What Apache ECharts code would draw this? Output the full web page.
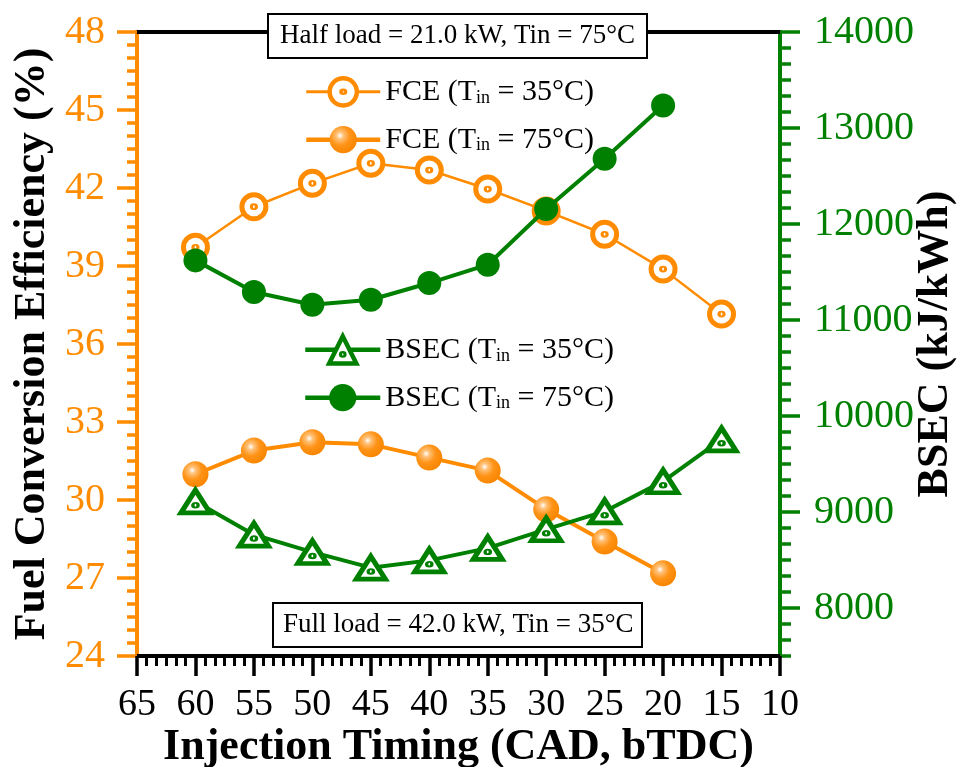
<!DOCTYPE html>
<html>
<head>
<meta charset="utf-8">
<script src="https://cdn.jsdelivr.net/npm/echarts@6/dist/echarts.min.js"></script>
<style>
html,body{margin:0;padding:0;background:#fff;}
#chart{width:957px;height:767px;}
</style>
</head>
<body>
<div id="chart"></div>
<script>
// ---- data ----
const timing = [60, 55, 50, 45, 40, 35, 30, 25, 20, 15];
const fce35 = [39.72, 41.28, 42.18, 42.95, 42.69, 41.96, 41.12, 40.22, 38.88, 37.15];
const fce75 = [30.99, 31.90, 32.22, 32.14, 31.63, 31.13, 29.64, 28.40, 27.18];
const bsec35 = [9110, 8764, 8582, 8420, 8496, 8624, 8819, 9006, 9319, 9756];
const bsec75 = [11621, 11292, 11159, 11211, 11385, 11576, 12156, 12680, 13235];
const bsecTicks = [8000, 9000, 10000, 11000, 12000, 13000, 14000];
const seriesNames = ['FCE (Tin = 35°C)', 'FCE (Tin = 75°C)', 'BSEC (Tin = 35°C)', 'BSEC (Tin = 75°C)'];
const legendParts = [['FCE (T', 'in', ' = 35°C)'], ['FCE (T', 'in', ' = 75°C)'], ['BSEC (T', 'in', ' = 35°C)'], ['BSEC (T', 'in', ' = 75°C)']];
const noteTop = 'Half load = 21.0 kW, Tin = 75°C';
const noteBottom = 'Full load = 42.0 kW, Tin = 35°C';

const ORANGE = '#FF8C00';
const GREEN = '#008000';
const FONT = '"Liberation Serif", "Times New Roman", serif';

function pairs(xs, ys) { return ys.map((v, i) => [xs[i], v]); }

const ringPath = 'path://M0,12 A12,12 0 1,1 24,12 A12,12 0 1,1 0,12 Z M10.4,12 A1.6,0.9 0 1,1 13.6,12 A1.6,0.9 0 1,1 10.4,12 Z';
const triPath = 'path://M12,0 L24,21 L0,21 Z M10.6,14 A1.4,0.8 0 1,1 13.4,14 A1.4,0.8 0 1,1 10.6,14 Z';

function legendFmt(name) {
  const p = legendParts[seriesNames.indexOf(name)];
  return '{m|' + p[0] + '}{s|' + p[1] + '}{m|' + p[2] + '}';
}
const legendRich = {
  m: { fontSize: 30, fontFamily: FONT, color: '#000', lineHeight: 30 },
  s: { fontSize: 18, fontFamily: FONT, color: '#000', lineHeight: 4, verticalAlign: 'bottom' }
};

const chart = echarts.init(document.getElementById('chart'), null, { renderer: 'canvas' });
const option = {
  animation: false,
  backgroundColor: '#fff',
  grid: { left: 137, right: 177, top: 32, bottom: 111, outerBoundsMode: 'none', containLabel: false },
  title: [
    { text: noteTop, left: 268, top: 14, padding: [7, 12, 7, 12], borderWidth: 2, borderColor: '#000', backgroundColor: '#fff',
      textStyle: { fontFamily: FONT, fontSize: 27, fontWeight: 'normal', color: '#000', lineHeight: 30 }, z: 20 },
    { text: noteBottom, left: 273, top: 603, padding: [7, 9, 7, 10], borderWidth: 2, borderColor: '#000', backgroundColor: '#fff',
      textStyle: { fontFamily: FONT, fontSize: 27, fontWeight: 'normal', color: '#000', lineHeight: 30 }, z: 20 }
  ],
  legend: [
    { data: [
        { name: seriesNames[0], itemStyle: { borderWidth: 4.5 }, lineStyle: { width: 3 } },
        { name: seriesNames[1], lineStyle: { width: 4.5 } } ],
      orient: 'vertical', left: 299, top: 71, itemWidth: 74, itemHeight: 34, itemGap: 17,
      selectedMode: false, formatter: legendFmt, textStyle: { rich: legendRich } },
    { data: [
        { name: seriesNames[2], itemStyle: { borderWidth: 4.5 }, lineStyle: { width: 4.5 } },
        { name: seriesNames[3], lineStyle: { width: 4.5 } } ],
      orient: 'vertical', left: 298, top: 329, itemWidth: 75, itemHeight: 34, itemGap: 17,
      selectedMode: false, formatter: legendFmt, textStyle: { rich: legendRich } }
  ],
  xAxis: [
    { type: 'value', min: 10, max: 65, interval: 5, inverse: true, position: 'bottom',
      axisLine: { show: true, lineStyle: { color: '#000', width: 4 } },
      axisTick: { show: true, length: 20, lineStyle: { color: '#000', width: 3.5 } },
      minorTick: { show: true, splitNumber: 6, length: 10, lineStyle: { color: '#000', width: 3 } },
      splitLine: { show: false }, minorSplitLine: { show: false },
      axisLabel: { fontSize: 38, fontFamily: FONT, color: '#000', margin: 30, showMinLabel: true, showMaxLabel: true },
      name: 'Injection Timing (CAD, bTDC)', nameLocation: 'middle', nameGap: 70, nameMoveOverlap: false,
      nameTextStyle: { fontSize: 44, fontWeight: 'bold', fontFamily: FONT, color: '#000' } },
    { type: 'value', min: 10, max: 65, inverse: true, position: 'top',
      axisLine: { show: true, lineStyle: { color: '#000', width: 4 } },
      axisTick: { show: false }, axisLabel: { show: false }, splitLine: { show: false } }
  ],
  yAxis: [
    { type: 'value', min: 24, max: 48, interval: 3, position: 'left',
      axisLine: { show: true, lineStyle: { color: ORANGE, width: 4 } },
      axisTick: { show: true, length: 20, lineStyle: { color: ORANGE, width: 3.5 } },
      minorTick: { show: true, splitNumber: 6, length: 10, lineStyle: { color: ORANGE, width: 3.5 } },
      splitLine: { show: false }, minorSplitLine: { show: false },
      axisLabel: { fontSize: 40, fontFamily: FONT, color: ORANGE, margin: 32, showMinLabel: true, showMaxLabel: true },
      name: 'Fuel Conversion Efficiency (%)', nameLocation: 'middle', nameRotate: 90, nameGap: 82, nameMoveOverlap: false,
      nameTextStyle: { fontSize: 44, fontWeight: 'bold', fontFamily: FONT, color: '#000' } },
    { type: 'value', min: 7500, max: 14000, position: 'right',
      axisLine: { show: true, lineStyle: { color: GREEN, width: 4 } },
      axisTick: { show: true, length: 20, customValues: bsecTicks, lineStyle: { color: GREEN, width: 3.5 } },
      splitLine: { show: false },
      axisLabel: { fontSize: 40, fontFamily: FONT, color: GREEN, margin: 34, customValues: bsecTicks, formatter: v => String(v) },
      name: 'BSEC (kJ/kWh)', nameLocation: 'middle', nameRotate: 90, nameGap: 134, nameMoveOverlap: false,
      nameTextStyle: { fontSize: 44, fontWeight: 'bold', fontFamily: FONT, color: '#000' } },
    { type: 'value', min: 7500, max: 14000, interval: 500, position: 'right',
      axisLine: { show: false },
      axisTick: { show: true, length: 11, lineStyle: { color: GREEN, width: 3.5 } },
      minorTick: { show: true, splitNumber: 3, length: 11, lineStyle: { color: GREEN, width: 3.5 } },
      axisLabel: { show: false }, splitLine: { show: false }, minorSplitLine: { show: false } }
  ],
  series: [
    { name: seriesNames[0], type: 'line', xAxisIndex: 0, yAxisIndex: 0, data: pairs(timing, fce35),
      symbol: ringPath, symbolSize: 24, symbolKeepAspect: true,
      itemStyle: { color: '#fff', borderColor: ORANGE, borderWidth: 5 },
      lineStyle: { color: ORANGE, width: 2.5 }, z: 2 },
    { name: seriesNames[1], type: 'line', xAxisIndex: 0, yAxisIndex: 0, data: pairs(timing, fce75),
      symbol: 'circle', symbolSize: 26,
      itemStyle: { color: { type: 'radial', x: 0.38, y: 0.35, r: 0.65, colorStops: [
        { offset: 0, color: '#ffffff' }, { offset: 0.2, color: '#FFC27A' }, { offset: 0.55, color: '#FF9419' }, { offset: 1, color: '#F88600' } ] }, borderWidth: 0 },
      lineStyle: { color: ORANGE, width: 4 }, z: 3 },
    { name: seriesNames[2], type: 'line', xAxisIndex: 0, yAxisIndex: 1, data: pairs(timing, bsec35),
      symbol: triPath, symbolSize: [29, 26], symbolKeepAspect: true,
      itemStyle: { color: '#fff', borderColor: GREEN, borderWidth: 5 },
      lineStyle: { color: GREEN, width: 4 }, z: 4 },
    { name: seriesNames[3], type: 'line', xAxisIndex: 0, yAxisIndex: 1, data: pairs(timing, bsec75),
      symbol: 'circle', symbolSize: 24,
      itemStyle: { color: GREEN, borderWidth: 0 },
      lineStyle: { color: GREEN, width: 4 }, z: 5 }
  ]
};
chart.setOption(option);
</script>
</body>
</html>
